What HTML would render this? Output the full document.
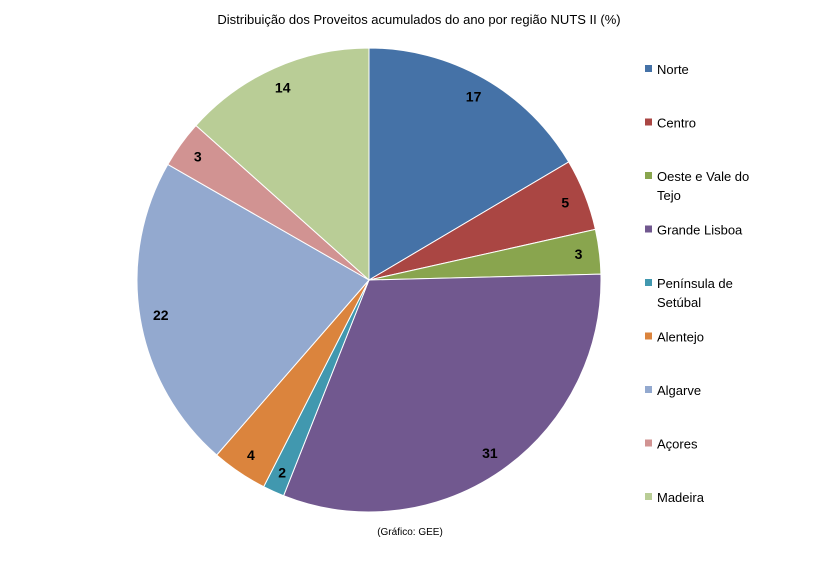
<!DOCTYPE html>
<html><head><meta charset="utf-8"><style>
body{margin:0;background:#fff;width:839px;height:559px;overflow:hidden;font-family:"Liberation Sans",sans-serif}
</style></head><body>
<svg width="839" height="559">
<text x="419" y="24" text-anchor="middle" font-size="13" fill="#000">Distribuição dos Proveitos acumulados do ano por região NUTS II (%)</text>
<g id="slices"></g><g id="labels"></g><g id="legend"></g>
<text x="410" y="535" text-anchor="middle" font-size="10" fill="#000">(Gráfico: GEE)</text>
</svg>
<script>
const categories=["Norte","Centro","Oeste e Vale do|Tejo","Grande Lisboa","Península de|Setúbal","Alentejo","Algarve","Açores","Madeira"];
const values=[16.5,5.0,3.1,31.4,1.5,3.9,21.9,3.3,13.4];
const printed=["17","5","3","31","2","4","22","3","14"];
const colors=["#4572A7","#AA4643","#89A54E","#71588F","#4198AF","#DB843D","#93A9CF","#D19392","#B9CD96"];
const NS="http://www.w3.org/2000/svg";
const cx=369,cy=280,r=232;
const total=values.reduce((a,b)=>a+b,0);
const sl=document.getElementById('slices'),lb=document.getElementById('labels'),lg=document.getElementById('legend');
function pt(a,rr){return [cx+rr*Math.sin(a),cy-rr*Math.cos(a)];}
let acc=0;
values.forEach((v,i)=>{
  const a0=acc/total*2*Math.PI;acc+=v;const a1=acc/total*2*Math.PI;
  const p0=pt(a0,r),p1=pt(a1,r);
  const p=document.createElementNS(NS,'path');
  p.setAttribute('d',`M${cx},${cy}L${p0[0]},${p0[1]}A${r},${r} 0 ${a1-a0>Math.PI?1:0} 1 ${p1[0]},${p1[1]}Z`);
  p.setAttribute('fill',colors[i]);p.setAttribute('stroke','#fff');p.setAttribute('stroke-width','1');
  
  
  sl.appendChild(p);
  const m=pt((a0+a1)/2,r*0.91);
  const t=document.createElementNS(NS,'text');
  t.setAttribute('x',m[0]);t.setAttribute('y',m[1]+5);t.setAttribute('text-anchor','middle');
  t.setAttribute('font-size','14');t.setAttribute('font-weight','bold');t.textContent=printed[i];
  
  
  lb.appendChild(t);
  const y=69+i*53.5;
  const sq=document.createElementNS(NS,'rect');
  sq.setAttribute('x',645);sq.setAttribute('y',y-4);sq.setAttribute('width',7);sq.setAttribute('height',7);sq.setAttribute('fill',colors[i]);
  
  
  lg.appendChild(sq);
  categories[i].split('|').forEach((line,k)=>{
    const tt=document.createElementNS(NS,'text');
    tt.setAttribute('x',657);tt.setAttribute('y',y+5+k*19);tt.setAttribute('font-size','13');tt.textContent=line;
    
    
    lg.appendChild(tt);
  });
});
</script>
</body></html>
